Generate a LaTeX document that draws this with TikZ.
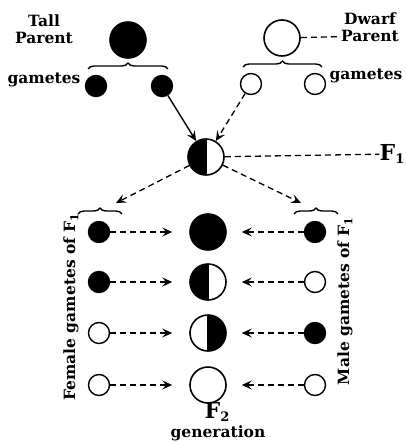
\documentclass[tikz,border=0pt]{standalone}
\usepackage{fontspec}
\setmainfont{DejaVu Serif}
\usetikzlibrary{arrows.meta,decorations.pathreplacing}
\newcommand{\lowsub}[1]{{\fontsize{13}{13}\selectfont\raisebox{-2.5pt}{#1}}}
\begin{document}
\begin{tikzpicture}[x=1pt,y=-1pt,
  big/.style={circle,draw,line width=1.6pt,minimum size=36pt,inner sep=0pt},
  small/.style={circle,draw,line width=1.4pt,minimum size=21pt,inner sep=0pt},
  blk/.style={fill=black},
  lefthalf/.style={path picture={\fill (path picture bounding box.south) rectangle (path picture bounding box.north west);
     \draw[line width=1.2pt] (path picture bounding box.north) -- (path picture bounding box.south);}},
  righthalf/.style={path picture={\fill (path picture bounding box.south) rectangle (path picture bounding box.north east);
     \draw[line width=1.2pt] (path picture bounding box.north) -- (path picture bounding box.south);}},
  lbl/.style={font=\bfseries\fontsize{15.5}{17}\selectfont,inner sep=0pt},
  vlbl/.style={font=\bfseries\fontsize{15.5}{17}\selectfont,inner sep=0pt,rotate=90},
  bigF/.style={font=\bfseries\fontsize{22}{24}\selectfont,inner sep=0pt},
  dsh/.style={dash pattern=on 6pt off 4pt,line width=1.3pt},
  arr/.style={-{Stealth[length=10pt,width=9pt,inset=4pt]}},
  brc/.style={decorate,decoration={brace,amplitude=6pt},line width=1.4pt}
]
\useasboundingbox (0,0) rectangle (405,444);

% parents
\node[big,blk] (tallP) at (128,40) {};
\node[big] (dwP) at (282,38) {};
\node[lbl] (tallT) at (44,21) {Tall};
\node[lbl] (tallPar) at (44,38) {Parent};
\node[lbl] (dwT) at (370,19) {Dwarf};
\node[lbl] (dwPar) at (370,36) {Parent};
\draw[dsh] (dwP) -- (dwPar);

% gametes
\node[small,blk] (tg1) at (96,86) {};
\node[small,blk] (tg2) at (162,86) {};
\node[small] (dg1) at (251,84) {};
\node[small] (dg2) at (315,84) {};
\node[lbl] (gamL) at (44,80) {gametes};
\node[lbl] (gamR) at (366,76) {gametes};

\coordinate (tb1) at (88,69); \coordinate (tb2) at (168,69);
\coordinate (db1) at (243,67); \coordinate (db2) at (322,67);
\draw[brc] (tb1) -- (tb2);
\draw[brc] (db1) -- (db2);

% F1
\node[big,lefthalf] (f1) at (206,157) {};
\node[bigF] (f1lab) at (392,154) {F\lowsub{1}};
\draw[dsh] (f1) -- (f1lab);
\draw[line width=1.4pt,arr] (tg2) -- (f1);
\draw[dsh,arr] (dg1) -- (f1);

\coordinate (lb1) at (78,214); \coordinate (lb2) at (122,214);
\coordinate (rb1) at (294,214); \coordinate (rb2) at (338,214);
\draw[brc] (lb1) -- (lb2);
\draw[brc] (rb1) -- (rb2);
\coordinate (lbt) at (116,203);
\coordinate (rbt) at (301,203);
\draw[dsh,arr] (f1) -- (lbt);
\draw[dsh,arr] (f1) -- (rbt);

% F1 gametes and F2
\node[small,blk] (lg1) at (99,232) {};
\node[small,blk] (lg2) at (99,282) {};
\node[small] (lg3) at (99,333) {};
\node[small] (lg4) at (99,385) {};
\node[small,blk] (rg1) at (315,232) {};
\node[small] (rg2) at (315,282) {};
\node[small,blk] (rg3) at (315,333) {};
\node[small] (rg4) at (315,385) {};
\node[big,blk] (m1) at (208,232) {};
\node[big,lefthalf] (m2) at (208,282) {};
\node[big,righthalf] (m3) at (208,333) {};
\node[big] (m4) at (208,385) {};

\foreach \i in {1,2,3,4}{
  \draw[dsh,arr,shorten >=17pt] (lg\i) -- (m\i);
  \draw[dsh,arr,shorten >=15pt] (rg\i) -- (m\i);
}

\node[vlbl] (fem) at (71,307) {Female gametes of F\textsubscript{1}};
\node[vlbl] (male) at (345,301) {Male gametes of F\textsubscript{1}};
\node[bigF] (f2) at (217,412) {F\lowsub{2}};
\node[lbl] (gen) at (218,433) {generation};
\end{tikzpicture}
\end{document}
